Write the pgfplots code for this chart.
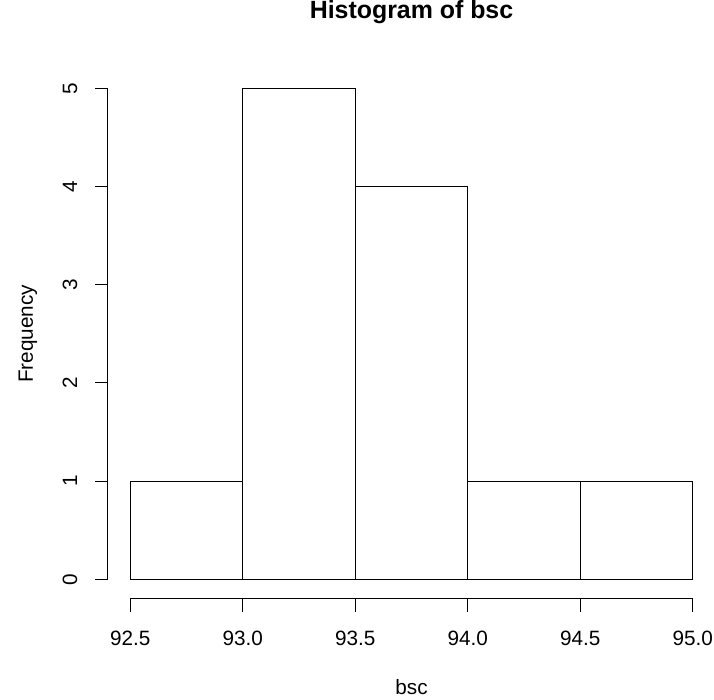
\documentclass[border=0pt]{standalone}
\usepackage{fontspec}
\setmainfont{Liberation Sans}
\usepackage{pgfplots}
\pgfplotsset{compat=1.18}

\begin{document}
\begin{tikzpicture}
\useasboundingbox (-107.8bp,-101.1bp) rectangle (606.2bp,598.9bp);
\begin{axis}[
    at={(0,0)}, anchor=south west,
    scale only axis,
    width=607.4bp, height=530.2bp,
    xmin=92.4, xmax=95.1,
    ymin=-0.2, ymax=5.2,
    clip=false,
    axis x line*=bottom,
    axis y line*=left,
    axis line style={draw=none},
    xtick={92.5,93,93.5,94,94.5,95},
    ytick={0,1,2,3,4,5},
    tick align=outside,
    major tick length=13bp,
    tick style={draw=black, line width=1bp},
    /pgf/number format/assume math mode=true,
    tick label style={font=\fontsize{20.8}{25}\selectfont},
    xticklabel style={anchor=base, /pgf/number format/fixed, /pgf/number format/fixed zerofill, /pgf/number format/precision=1},
    xticklabel shift=34bp,
    yticklabel style={rotate=90, anchor=base},
    yticklabel shift=17.6bp,
    title={Histogram of bsc},
    title style={font=\bfseries\fontsize{25}{30}\selectfont, at={(axis description cs:0.5,1)}, anchor=base, yshift=44bp},
    xlabel={bsc},
    xlabel style={font=\fontsize{20.8}{25}\selectfont, at={([yshift=-96bp]axis description cs:0.5,0)}, anchor=base},
    ylabel={Frequency},
    ylabel style={font=\fontsize{20.8}{25}\selectfont, at={([xshift=-75bp]axis description cs:0,0.5)}, rotate=0, anchor=base},
]
\addplot[ybar interval, draw=black, fill=none, line width=1bp]
  coordinates {(92.5,1) (93,5) (93.5,4) (94,1) (94.5,1) (95,1)};
\draw[line width=1bp] (axis cs:92.5,-0.2) -- (axis cs:95,-0.2);
\draw[line width=1bp] (axis cs:92.4,0) -- (axis cs:92.4,5);
\end{axis}
\end{tikzpicture}
\end{document}
